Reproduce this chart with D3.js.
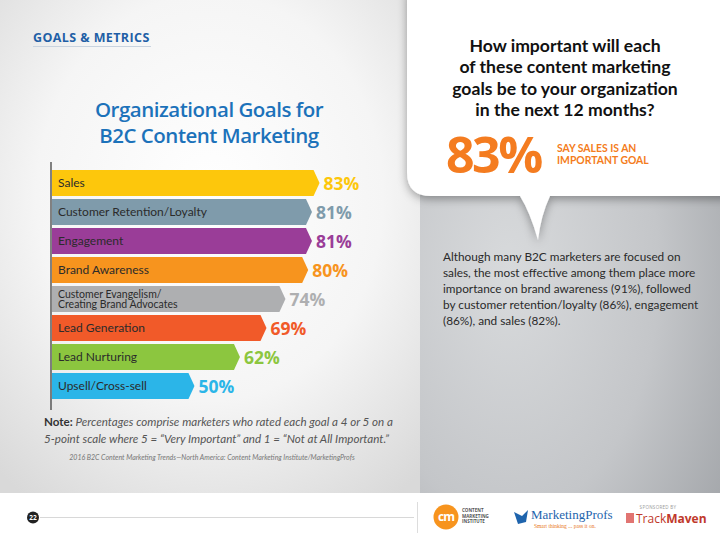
<!DOCTYPE html>
<html><head><meta charset="utf-8">
<script src="https://cdn.jsdelivr.net/npm/d3@7"></script>
<style>
html,body{margin:0;padding:0;background:#fff;}
svg{display:block;}
</style></head>
<body>
<script>
// ---- data ----
const categories = ["Sales","Customer Retention/Loyalty","Engagement","Brand Awareness","Customer Evangelism/\nCreating Brand Advocates","Lead Generation","Lead Nurturing","Upsell/Cross-sell"];
const values = [83,81,81,80,74,69,62,50];
const barColors = ["#fdc70c","#7f9bab","#9a3d98","#f7941e","#aeafb1","#f15a29","#8cc63f","#2bb5e8"];
const labelColors = ["#fdc70c","#7f9bab","#9a3d98","#f7941e","#aeafb1","#f15a29","#8cc63f","#2bb5e8"];
const titleLines = ["Organizational Goals for","B2C Content Marketing"];
const questionLines = ["How important will each","of these content marketing","goals be to your organization","in the next 12 months?"];
const highlightValue = "83%";
const highlightLines = ["SAY SALES IS AN","IMPORTANT GOAL"];
const bodyLines = ["Although many B2C marketers are focused on","sales, the most effective among them place more","importance on brand awareness (91%), followed","by customer retention/loyalty (86%), engagement","(86%), and sales (82%)."];
const noteLines = ["Percentages comprise marketers who rated each goal a 4 or 5 on a","5-point scale where 5 = “Very Important” and 1 = “Not at All Important.”"];
const sourceText = "2016 B2C Content Marketing Trends—North America: Content Marketing Institute/MarketingProfs";

const W = 720, H = 541;
const svg = d3.select("body").append("svg").attr("width", W).attr("height", H);
const defs = svg.append("defs");

const lg = defs.append("radialGradient").attr("id","leftBg").attr("cx","0.5").attr("cy","0.4").attr("r","0.75");
lg.append("stop").attr("offset","0").attr("stop-color","#ffffff");
lg.append("stop").attr("offset","0.55").attr("stop-color","#f5f5f5");
lg.append("stop").attr("offset","1").attr("stop-color","#d9d9d9");

const rg = defs.append("radialGradient").attr("id","rightBg").attr("cx","0.3").attr("cy","0.55").attr("r","0.9");
rg.append("stop").attr("offset","0").attr("stop-color","#d8dadc");
rg.append("stop").attr("offset","0.55").attr("stop-color","#c4c6c9");
rg.append("stop").attr("offset","1").attr("stop-color","#a0a3a7");

const sh = defs.append("filter").attr("id","shadow").attr("x","-20%").attr("y","-20%").attr("width","140%").attr("height","150%");
sh.append("feDropShadow").attr("dx",0).attr("dy",3).attr("stdDeviation",5).attr("flood-color","#000").attr("flood-opacity",0.35);

// backgrounds
svg.append("rect").attr("x",0).attr("y",0).attr("width",420).attr("height",493).attr("fill","url(#leftBg)");
svg.append("rect").attr("x",420).attr("y",0).attr("width",300).attr("height",493).attr("fill","url(#rightBg)");
svg.append("rect").attr("x",0).attr("y",493).attr("width",W).attr("height",48).attr("fill","#ffffff");

// speech bubble
const bx0 = 407, by1 = 196, r = 24;
const bubble = d3.path();
bubble.moveTo(bx0, -10);
bubble.lineTo(W+10, -10);
bubble.lineTo(W+10, by1);
bubble.lineTo(550, by1);
bubble.quadraticCurveTo(541, 215, 538, 240);
bubble.quadraticCurveTo(530, 212, 520, by1);
bubble.lineTo(bx0 + r, by1);
bubble.quadraticCurveTo(bx0, by1, bx0, by1 - r);
bubble.closePath();
svg.append("path").attr("d", bubble.toString()).attr("fill","#ffffff").attr("filter","url(#shadow)");

// header
svg.append("text").attr("x",33).attr("y",42).attr("font-family","Open Sans").attr("font-weight",700)
  .attr("font-size",12.5).attr("fill","#1f5fa6").attr("letter-spacing",0.4).text("GOALS & METRICS");
svg.append("line").attr("x1",33).attr("x2",151).attr("y1",46.5).attr("y2",46.5).attr("stroke","#c9d3df").attr("stroke-width",1);

// chart title
svg.append("g").selectAll("text").data(titleLines).join("text")
  .attr("x",209).attr("y",(d,i)=>117+i*26).attr("text-anchor","middle")
  .attr("font-family","Open Sans").attr("font-weight",600).attr("font-size",20.5)
  .attr("fill","#1c72ba").attr("letter-spacing",-0.5).text(d=>d);

// scales
const y = d3.scaleBand().domain(categories).range([168.5, 400.5]).paddingInner(0.1).paddingOuter(0.05);
const x = d3.scaleLinear().domain([14, 100]).range([52, 378]);
const x0 = 52, tip = 6;

// axis line
svg.append("line").attr("x1",51).attr("x2",51).attr("y1",162).attr("y2",410).attr("stroke","#333").attr("stroke-width",1.2);

const bars = svg.append("g").selectAll("g").data(categories).join("g");
bars.append("path")
  .attr("d",(c,i)=>{
    const y0 = y(c), y1 = y(c)+y.bandwidth(), xe = x(values[i]);
    return `M${x0},${y0}L${xe},${y0}L${xe+tip},${(y0+y1)/2}L${xe},${y1}L${x0},${y1}Z`;
  })
  .attr("fill",(c,i)=>barColors[i]);

bars.each(function(c,i){
  const g = d3.select(this);
  const lines = c.split("\n");
  const cy = y(c) + y.bandwidth()/2;
  if (lines.length === 1) {
    g.append("text").attr("x",58).attr("y",cy+4.3).attr("font-family","Lato").attr("font-size",12)
      .attr("fill","#2b2b2b").text(c);
  } else {
    g.selectAll("text.l").data(lines).join("text").attr("class","l")
      .attr("x",58).attr("y",(d,k)=>cy-1.5+k*10.5).attr("font-family","Lato").attr("font-size",10.5)
      .attr("fill","#2b2b2b").text(d=>d);
  }
  g.append("text").attr("x",x(values[i])+tip+4).attr("y",cy+6.5)
    .attr("font-family","Open Sans").attr("font-weight",700).attr("font-size",17.5)
    .attr("fill",labelColors[i]).text(values[i]+"%");
});

// note
const note = svg.append("g").attr("font-family","Lato").attr("font-size",11.6).attr("fill","#333");
const n1 = note.append("text").attr("x",44).attr("y",426);
n1.append("tspan").attr("font-weight",700).attr("font-style","normal").text("Note: ");
n1.append("tspan").attr("font-style","italic").attr("fill","#555").text(noteLines[0]);
note.append("text").attr("x",44).attr("y",443).attr("font-style","italic").attr("fill","#555").text(noteLines[1]);
svg.append("text").attr("x",212).attr("y",460).attr("text-anchor","middle").attr("font-family","Lato")
  .attr("font-style","italic").attr("font-size",7).attr("fill","#777").text(sourceText);

// question
svg.append("g").selectAll("text").data(questionLines).join("text")
  .attr("x",565).attr("y",(d,i)=>52+i*21.3).attr("text-anchor","middle")
  .attr("font-family","Lato").attr("font-weight",700).attr("font-size",17.6)
  .attr("fill","#111").text(d=>d);

svg.append("text").attr("x",446).attr("y",173).attr("font-family","Open Sans").attr("font-weight",700)
  .attr("font-size",50).attr("fill","#f47c20").attr("letter-spacing",-2.5).text(highlightValue);
svg.append("g").selectAll("text").data(highlightLines).join("text")
  .attr("x",557).attr("y",(d,i)=>151.5+i*12.6).attr("font-family","Lato").attr("font-weight",700)
  .attr("font-size",10.4).attr("fill","#f47c20").text(d=>d);

// body paragraph
svg.append("g").selectAll("text").data(bodyLines).join("text")
  .attr("x",443).attr("y",(d,i)=>261+i*16).attr("font-family","Lato").attr("font-size",11.8)
  .attr("fill","#2a2a2a").text(d=>d);

// footer
svg.append("line").attr("x1",40).attr("x2",414).attr("y1",517.5).attr("y2",517.5).attr("stroke","#d8d8d8");
svg.append("circle").attr("cx",33).attr("cy",517.5).attr("r",6).attr("fill","#222");
svg.append("text").attr("x",33).attr("y",520).attr("text-anchor","middle").attr("font-family","Open Sans")
  .attr("font-weight",700).attr("font-size",6.5).attr("fill","#fff").text("22");
svg.append("line").attr("x1",417.5).attr("x2",417.5).attr("y1",502).attr("y2",533).attr("stroke","#ddd");
// CMI logo
svg.append("circle").attr("cx",446).attr("cy",517).attr("r",12.5).attr("fill","#f7941e");
svg.append("text").attr("x",446).attr("y",521).attr("text-anchor","middle").attr("font-family","Open Sans")
  .attr("font-weight",700).attr("font-size",12).attr("fill","#fff").attr("letter-spacing",-1).text("cm");
svg.append("g").selectAll("text").data(["CONTENT","MARKETING","INSTITUTE"]).join("text")
  .attr("x",462).attr("y",(d,i)=>512+i*5.5).attr("font-family","Open Sans").attr("font-weight",700)
  .attr("font-size",4.5).attr("fill","#555").text(d=>d);
// MarketingProfs
svg.append("path").attr("d","M514,512 L522,516 L528,510 L526,522 L518,524 Z").attr("fill","#1e64ad");
svg.append("text").attr("x",531).attr("y",519).attr("font-family","Liberation Serif").attr("font-size",13)
  .attr("fill","#1e64ad").text("MarketingProfs");
svg.append("text").attr("x",534).attr("y",528).attr("font-family","Liberation Serif").attr("font-size",5.5)
  .attr("fill","#e87722").text("Smart thinking ... pass it on.");
// TrackMaven
svg.append("text").attr("x",658).attr("y",509).attr("text-anchor","middle").attr("font-family","Open Sans")
  .attr("font-size",4.5).attr("fill","#999").attr("letter-spacing",0.3).text("SPONSORED BY");
svg.append("rect").attr("x",626).attr("y",513).attr("width",8).attr("height",10).attr("fill","#d9534f").attr("opacity",0.8);
const tm = svg.append("text").attr("x",636).attr("y",523).attr("font-family","Open Sans").attr("font-size",12).attr("fill","#c0392b");
tm.append("tspan").text("Track");
tm.append("tspan").attr("font-weight",700).text("Maven");
</script>
</body></html>
